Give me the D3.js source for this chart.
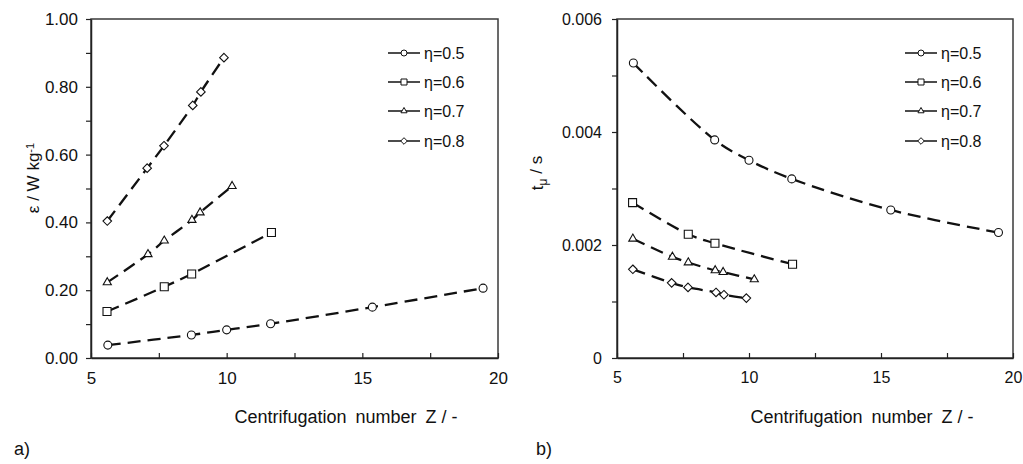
<!DOCTYPE html>
<html>
<head>
<meta charset="utf-8">
<script src="https://cdn.jsdelivr.net/npm/d3@7"></script>
<style>
  body { margin: 0; background: #fff; }
  text { font-family: "Liberation Sans", Arial, sans-serif; fill: #111; }
</style>
</head>
<body>
<div id="chart"></div>
<script>

// --> DATA

var etaLabels = ["η=0.5", "η=0.6", "η=0.7", "η=0.8"];
var symbols = ["circle", "square", "triangle", "diamond"];

var zEta05 = [5.62, 8.70, 10.0, 11.62, 15.37, 19.45];
var zEta06 = [5.59, 7.70, 8.71, 11.65];
var zEta07 = [5.60, 7.10, 7.70, 8.72, 9.02, 10.20];
var zEta08 = [5.60, 7.07, 7.69, 8.75, 9.05, 9.90];

var epsEta05 = [0.038, 0.068, 0.083, 0.101, 0.150, 0.206];
var epsEta06 = [0.137, 0.210, 0.248, 0.370];
var epsEta07 = [0.223, 0.306, 0.346, 0.407, 0.429, 0.507];
var epsEta08 = [0.404, 0.560, 0.626, 0.745, 0.785, 0.886];

var tEta05 = [0.00522, 0.00386, 0.00350, 0.00317, 0.00262, 0.00222];
var tEta06 = [0.00275, 0.00219, 0.00203, 0.00166];
var tEta07 = [0.00211, 0.00179, 0.00169, 0.00155, 0.00152, 0.00139];
var tEta08 = [0.00157, 0.00133, 0.00125, 0.00116, 0.00112, 0.00106];

var xTicks = [5, 7.5, 10, 12.5, 15, 17.5, 20];
var epsTicks = [0, 0.1, 0.2, 0.3, 0.4, 0.5, 0.6, 0.7, 0.8, 0.9, 1.0];
var tTicks = [0, 0.001, 0.002, 0.003, 0.004, 0.005, 0.006];

var zSets = [zEta05, zEta06, zEta07, zEta08];
var epsSets = [epsEta05, epsEta06, epsEta07, epsEta08];
var tSets = [tEta05, tEta06, tEta07, tEta08];

// --> SVG

var width = 1023,
    height = 464;

var svg = d3.select("#chart").append("svg")
    .attr("width", width)
    .attr("height", height);

svg.append("rect").attr("width", width).attr("height", height).attr("fill", "#fff");

function markerPath(type, s) {
    if (type === "circle") return d3.symbol(d3.symbolCircle, Math.PI * s * s / 4)();
    if (type === "square") return d3.symbol(d3.symbolSquare, s * s)();
    if (type === "triangle") return d3.symbol(d3.symbolTriangle, s * s * 0.45)();
    // diamond = square turned by 45 deg
    var h = s / 2 + 0.3;
    return "M0," + (-h) + "L" + h + ",0L0," + h + "L" + (-h) + ",0Z";
}

function drawPanel(opt) {
    var x = d3.scaleLinear().domain([5, 20]).range([opt.left, opt.right]);
    var y = d3.scaleLinear().domain(opt.yDomain).range([358, 19]);
    var g = svg.append("g");

    // frame
    g.append("rect")
        .attr("x", opt.left).attr("y", 19)
        .attr("width", opt.right - opt.left).attr("height", 339)
        .attr("fill", "none").attr("stroke", "#3a3a3a").attr("stroke-width", 1.5);

    var xAxis = d3.axisBottom(x)
        .tickValues(xTicks)
        .tickSize(-5)
        .tickSizeOuter(0)
        .tickPadding(14)
        .tickFormat(function (d) { return d % 5 === 0 ? d : ""; });

    var yAxis = d3.axisLeft(y)
        .tickValues(opt.yTicks)
        .tickSize(5)
        .tickSizeOuter(0)
        .tickPadding(opt.yPad)
        .tickFormat(opt.yFormat);

    g.append("g").attr("transform", "translate(0,358)").call(xAxis);
    g.append("g").attr("transform", "translate(" + opt.left + ",0)").call(yAxis);

    g.selectAll(".domain").attr("stroke", "#222").attr("stroke-width", 1.5);
    g.selectAll(".tick line").attr("stroke", "#222").attr("stroke-width", 1.2);
    g.selectAll(".tick text")
        .style("font-family", "Liberation Sans, Arial, sans-serif")
        .style("font-size", opt.tickFont)
        .attr("fill", "#111");

    var line = d3.line()
        .x(function (d) { return x(d[0]); })
        .y(function (d) { return y(d[1]); })
        .curve(d3.curveCatmullRom.alpha(0.5));

    zSets.forEach(function (zs, i) {
        var pts = zs.map(function (z, j) { return [z, opt.ySets[i][j]]; });
        g.append("path")
            .attr("d", line(pts))
            .attr("fill", "none")
            .attr("stroke", "#111")
            .attr("stroke-width", 2.3)
            .attr("stroke-dasharray", "13,7");
        g.selectAll(null)
            .data(pts)
            .enter()
            .append("path")
            .attr("transform", function (d) { return "translate(" + x(d[0]) + "," + y(d[1]) + ")"; })
            .attr("d", markerPath(symbols[i], 8))
            .attr("fill", "#fff")
            .attr("stroke", "#111")
            .attr("stroke-width", 1.1);
    });

    // legend
    var leg = g.selectAll(".leg")
        .data(etaLabels)
        .enter()
        .append("g")
        .attr("transform", function (d, i) { return "translate(" + opt.legX + "," + [53, 82, 111, 141][i] + ")"; });
    leg.append("line")
        .attr("x1", 0).attr("x2", 32)
        .attr("stroke", "#111").attr("stroke-width", 1.5);
    leg.append("path")
        .attr("transform", "translate(16,0)")
        .attr("d", function (d, i) { return markerPath(symbols[i], 6); })
        .attr("fill", "#fff").attr("stroke", "#111").attr("stroke-width", 1);
    leg.append("text")
        .attr("x", 36).attr("dy", "0.36em")
        .style("font-size", "16px")
        .text(function (d) { return d; });

    // x title
    svg.append("text")
        .attr("x", opt.xTitleX).attr("y", 423)
        .attr("text-anchor", "middle")
        .style("font-size", "18px")
        .text("Centrifugation\u2002number\u2002Z / -");

    // panel letter
    svg.append("text")
        .attr("x", opt.letterX).attr("y", 455)
        .style("font-size", "18px")
        .text(opt.letter);
}

drawPanel({
    left: 91, right: 498,
    yDomain: [0, 1],
    yTicks: epsTicks,
    yPad: 8,
    tickFont: "17px",
    yFormat: function (d) { return Math.round(d * 10) % 2 === 0 ? d.toFixed(2) : ""; },
    ySets: epsSets,
    legX: 388,
    xTitleX: 346,
    letterX: 14,
    letter: "a)"
});

drawPanel({
    left: 617, right: 1013,
    yDomain: [0, 0.006],
    yTicks: tTicks,
    yPad: 10,
    tickFont: "16px",
    yFormat: function (d) {
        var k = Math.round(d * 1000);
        if (k % 2 !== 0) return "";
        return k === 0 ? "0" : d.toFixed(3);
    },
    ySets: tSets,
    legX: 905,
    xTitleX: 862,
    letterX: 536,
    letter: "b)"
});

// y titles
var yt1 = svg.append("text")
    .attr("transform", "translate(39,178) rotate(-90)")
    .attr("text-anchor", "middle")
    .style("font-size", "17px");
yt1.append("tspan").text("ε / W kg");
yt1.append("tspan").attr("dy", "-0.45em").style("font-size", "11px").text("-1");

var yt2 = svg.append("text")
    .attr("transform", "translate(543,173) rotate(-90)")
    .attr("text-anchor", "middle")
    .style("font-size", "17px");
yt2.append("tspan").text("t");
yt2.append("tspan").attr("dy", "0.3em").style("font-size", "12px").text("μ");
yt2.append("tspan").attr("dy", "-0.3em").text(" / s");

</script>
</body>
</html>
